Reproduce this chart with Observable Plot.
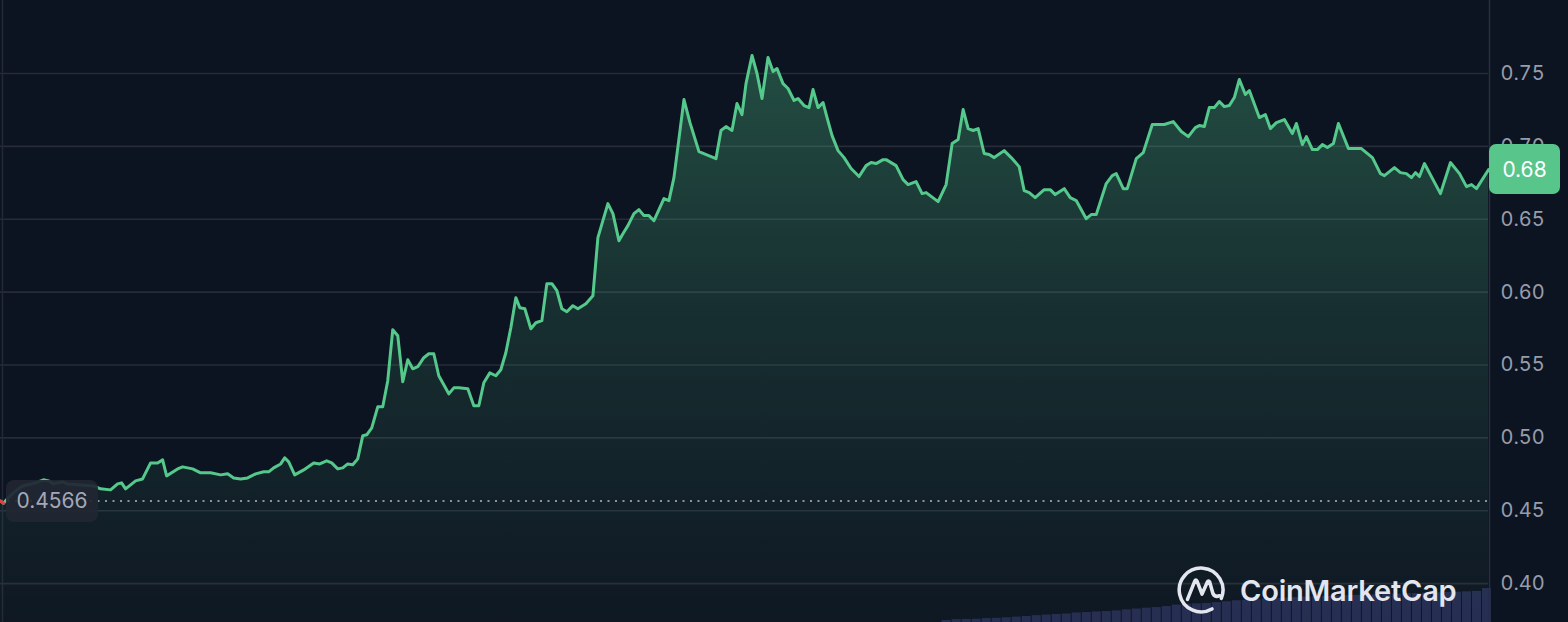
<!DOCTYPE html>
<html>
<head>
<meta charset="utf-8">
<script src="https://cdn.jsdelivr.net/npm/d3@7"></script>
<script src="https://cdn.jsdelivr.net/npm/@observablehq/plot@0.6"></script>
<style>
html, body { margin: 0; padding: 0; background: #0d1421; }
#wrap { position: relative; width: 1568px; height: 622px; overflow: hidden; background: #0d1421; font-family: Inter, "Noto Sans", sans-serif; }
#wrap > svg, #wrap > .layer { position: absolute; left: 0; top: 0; }
.badge { position: absolute; display: flex; align-items: center; justify-content: center; box-sizing: border-box; font-family: Inter, sans-serif; font-size: 21px; line-height: 1; }
</style>
</head>
<body>
<div id="wrap"></div>
<script>
// ---- Data (time index, price in USD) ----
const priceT = [0,3,8,14,22,35,43,48,53,62,67,93,100,110,117,121,125,135,142,150,157,162,166,177,182,192,200,210,220,227,233,240,247,255,263,268,273,280,284,288,294,303,313,319,326,331,337,342,347,352,357,362,366,371,377,382,387,392,397,402,407,412,417,423,428,433,438,448,453,458,467,473,478,483,489,495,500,505,510,515,519,524,530,535,541,546,551,556,561,566,572,577,585,592,597,607,612,618,622,627,633,638,643,648,653,663,668,673,683,689,698,715,720,725,731,736,741,745,751,756,761,767,772,776,782,787,793,797,803,808,812,817,822,826,831,837,843,850,858,865,870,875,882,885,895,902,907,915,921,925,937,945,951,957,962,967,972,977,983,988,993,1003,1010,1018,1023,1028,1034,1043,1049,1054,1063,1069,1075,1085,1090,1095,1105,1111,1115,1122,1126,1135,1142,1151,1163,1172,1180,1187,1194,1198,1203,1208,1213,1218,1223,1228,1233,1238,1244,1248,1258,1264,1269,1275,1283,1291,1295,1301,1305,1311,1316,1321,1326,1332,1337,1347,1360,1371,1379,1383,1393,1399,1405,1410,1414,1418,1423,1439,1449,1458,1465,1470,1475,1487];
const priceV = [0.4566,0.4552,0.4590,0.4630,0.4670,0.4691,0.4712,0.4705,0.4684,0.4698,0.4684,0.4670,0.4650,0.4643,0.4684,0.4691,0.4650,0.4705,0.4718,0.4828,0.4828,0.4849,0.4739,0.4787,0.4801,0.4787,0.4760,0.4760,0.4746,0.4753,0.4725,0.4718,0.4725,0.4753,0.4767,0.4767,0.4794,0.4821,0.4863,0.4835,0.4746,0.4780,0.4828,0.4821,0.4842,0.4828,0.4787,0.4794,0.4821,0.4815,0.4856,0.5014,0.5021,0.5069,0.5213,0.5213,0.5392,0.5742,0.5701,0.5385,0.5536,0.5474,0.5488,0.5550,0.5577,0.5577,0.5426,0.5302,0.5343,0.5343,0.5337,0.5220,0.5220,0.5378,0.5446,0.5426,0.5467,0.5584,0.5756,0.5962,0.5893,0.5886,0.5749,0.5790,0.5804,0.6058,0.6058,0.6010,0.5886,0.5865,0.5907,0.5886,0.5920,0.5975,0.6374,0.6607,0.6539,0.6353,0.6401,0.6456,0.6539,0.6566,0.6525,0.6525,0.6490,0.6642,0.6628,0.6786,0.7321,0.7163,0.6964,0.6916,0.7109,0.7136,0.7109,0.7294,0.7218,0.7431,0.7624,0.7500,0.7328,0.7610,0.7514,0.7534,0.7431,0.7397,0.7315,0.7328,0.7280,0.7266,0.7390,0.7266,0.7301,0.7198,0.7074,0.6971,0.6923,0.6848,0.6793,0.6868,0.6889,0.6882,0.6909,0.6909,0.6868,0.6772,0.6738,0.6758,0.6676,0.6683,0.6621,0.6738,0.7019,0.7047,0.7253,0.7122,0.7109,0.7122,0.6951,0.6944,0.6923,0.6971,0.6923,0.6861,0.6696,0.6683,0.6648,0.6703,0.6703,0.6669,0.6710,0.6648,0.6628,0.6504,0.6532,0.6532,0.6745,0.6799,0.6813,0.6710,0.6710,0.6916,0.6957,0.7150,0.7150,0.7170,0.7102,0.7067,0.7129,0.7143,0.7136,0.7266,0.7266,0.7308,0.7273,0.7280,0.7335,0.7459,0.7356,0.7383,0.7198,0.7218,0.7122,0.7163,0.7184,0.7088,0.7157,0.7012,0.7067,0.6978,0.6978,0.7012,0.6992,0.7019,0.7157,0.6985,0.6985,0.6923,0.6813,0.6799,0.6854,0.6820,0.6813,0.6786,0.6820,0.6793,0.6882,0.6676,0.6889,0.6813,0.6724,0.6738,0.6710,0.6840];
const baseValue = 0.4566;
const yTicks = [0.40, 0.45, 0.50, 0.55, 0.60, 0.65, 0.70, 0.75];
const yDomain = [0.3733, 0.8001];
const tDomain = [0, 1487];
// Volume (arbitrary units)
const volumeT = [940,950,960,970,980,990,1000,1010,1020,1030,1040,1050,1060,1070,1080,1090,1100,1110,1120,1130,1140,1150,1160,1170,1180,1190,1200,1210,1220,1230,1240,1250,1260,1270,1280,1290,1300,1310,1320,1330,1340,1350,1360,1370,1380,1390,1400,1410,1420,1430,1440,1450,1460,1470,1480];
const volumeV = [1.0,1.4,1.5,1.6,1.9,2.0,2.3,2.6,2.9,3.3,3.6,3.9,4.1,4.6,4.8,5.1,5.3,5.6,6.1,6.5,6.9,7.2,7.7,8.4,8.8,9.0,9.2,9.6,10.0,10.5,10.7,11.0,11.4,11.6,11.8,12.0,12.3,12.4,12.6,12.8,13.0,13.1,13.3,13.4,13.6,13.7,13.9,14.0,14.2,14.3,14.5,14.6,14.8,15.0,16.4];
const brandName = "CoinMarketCap";

// ---- Build ----
const prices = priceT.map((t, i) => ({t, v: priceV[i]}));
const volumes = volumeT.map((t, i) => ({t, v: volumeV[i]}));
const wrap = document.getElementById("wrap");

const volPlot = Plot.plot({
  width: 1568, height: 622,
  marginLeft: 0, marginRight: 80, marginTop: 0, marginBottom: 0,
  style: {background: "transparent"},
  x: {domain: tDomain, axis: null},
  y: {domain: [0, 300], axis: null},
  marks: [
    Plot.rectY(volumes, {x: "t", y: "v", interval: 10, fill: "#252b50"})
  ]
});
wrap.appendChild(volPlot);

const pricePlot = Plot.plot({
  width: 1568, height: 622,
  marginLeft: 0, marginRight: 80, marginTop: 0, marginBottom: 0,
  style: {background: "transparent", fontFamily: "Inter, sans-serif", fontSize: "20px", overflow: "visible"},
  x: {domain: tDomain, axis: null},
  y: {domain: yDomain, axis: null},
  marks: [
    Plot.ruleY(yTicks, {stroke: "#262b37", strokeWidth: 1.6}),
    Plot.ruleX([tDomain[0]], {stroke: "#232836", strokeWidth: 1.5, dx: 2}),
    Plot.ruleX([tDomain[1]], {stroke: "#2a2f3c", strokeWidth: 1.5, dx: 1}),
    Plot.areaY(prices, {x: "t", y: "v", fill: "url(#areaGrad)", clip: true}),
    Plot.ruleY([baseValue], {stroke: "#8d92a0", strokeWidth: 2, strokeDasharray: "2,5.5"}),
    Plot.line(prices, {x: "t", y: "v", stroke: "#55c98c", strokeWidth: 3, strokeLinejoin: "round"}),
    Plot.line(prices.slice(0, 2), {x: "t", y: "v", stroke: "#ea3943", strokeWidth: 3}),
    Plot.axisY({anchor: "right", label: null, ticks: yTicks, tickSize: 0, tickPadding: 12, tickFormat: d => d.toFixed(2), fill: "#979cab", fontSize: 20})
  ]
});
// gradient for the area
const ns = "http://www.w3.org/2000/svg";
const defs = document.createElementNS(ns, "defs");
defs.innerHTML = `<linearGradient id="areaGrad" gradientUnits="userSpaceOnUse" x1="0" y1="50" x2="0" y2="622">
  <stop offset="0" stop-color="#52c98a" stop-opacity="0.32"/>
  <stop offset="0.45" stop-color="#52c98a" stop-opacity="0.15"/>
  <stop offset="1" stop-color="#52c98a" stop-opacity="0.02"/>
</linearGradient>`;
pricePlot.insertBefore(defs, pricePlot.firstChild);
wrap.appendChild(pricePlot);

const yS = pricePlot.scale("y");
const xS = pricePlot.scale("x");

// last price badge
const last = prices[prices.length - 1];
const lastB = document.createElement("div");
lastB.className = "badge";
lastB.textContent = last.v.toFixed(2);
Object.assign(lastB.style, {
  left: (xS.apply(last.t) + 1) + "px", top: (yS.apply(last.v) - 25) + "px",
  width: "71px", height: "50px", background: "#58c58b", color: "#ffffff", borderRadius: "7px"
});
wrap.appendChild(lastB);

// base price badge
const baseB = document.createElement("div");
baseB.className = "badge";
baseB.textContent = baseValue.toFixed(4);
Object.assign(baseB.style, {
  left: "6px", top: (yS.apply(baseValue) - 21) + "px",
  width: "92px", height: "42px", background: "rgba(33,38,50,0.92)", color: "#a3a8b8", borderRadius: "8px"
});
wrap.appendChild(baseB);

// watermark
const logo = document.createElement("div");
Object.assign(logo.style, {position: "absolute", left: "1176px", top: "565px", display: "flex", alignItems: "center", gap: "14px", color: "#e3e6ee"});
logo.innerHTML = `<svg width="50" height="50" viewBox="0 0 48 48" fill="none" stroke="#e3e6ee" stroke-width="3.4" stroke-linecap="round" stroke-linejoin="round">
  <path d="M34.5 42.2 A21 21 0 1 1 43.5 32"/>
  <path d="M11 33 L18 15.5 Q19 13.5 20.2 15.5 L25 28 L30 16.5 Q31.2 14.2 32.4 16.5 L35.5 27.5 Q37.5 31.5 42 29.5"/>
</svg><span style="font-family: Inter, sans-serif; font-weight: 600; font-size: 29px; letter-spacing: -0.2px;">${brandName}</span>`;
wrap.appendChild(logo);
</script>
</body>
</html>
